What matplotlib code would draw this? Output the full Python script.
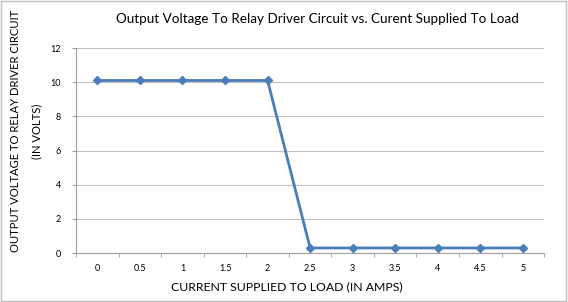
import matplotlib
matplotlib.use('Agg')
import matplotlib.pyplot as plt
from matplotlib.patches import Rectangle

current = ['0', '0.5', '1', '1.5', '2', '2.5', '3', '3.5', '4', '4.5', '5']
voltage = [10.1, 10.1, 10.1, 10.1, 10.1, 0.3, 0.3, 0.3, 0.3, 0.3, 0.3]

plt.rcParams['font.family'] = ['Lato', 'DejaVu Sans']

fig = plt.figure(figsize=(5.68, 3.02), dpi=100)
ax = fig.add_axes([0.134, 0.162, 0.824, 0.679])

xs = list(range(len(current)))
ax.plot(xs, voltage, color='#4A7EBB', lw=2, marker='D', ms=4, zorder=3)

ax.set_xlim(-0.5, len(current) - 0.5)
ax.set_ylim(0, 12)
ax.set_yticks(range(0, 13, 2))
ax.set_xticks(xs)
ax.set_xticklabels(current)
ax.set_xticks([x - 0.5 for x in range(len(current) + 1)], minor=True)
ax.yaxis.grid(True, color='#BFBFBF', lw=0.8)
ax.set_axisbelow(True)

for s in ['top', 'right']:
    ax.spines[s].set_visible(False)
for s in ['left', 'bottom']:
    ax.spines[s].set_color('#A0A0A0')
ax.tick_params(axis='x', which='major', length=0, labelsize=6.5, pad=8)
ax.tick_params(axis='x', which='minor', length=3, color='#A0A0A0')
ax.tick_params(axis='y', length=3, color='#A0A0A0', labelsize=6.5, pad=8)

ax.set_xlabel('CURRENT SUPPLIED TO LOAD (IN AMPS)', fontsize=8.8)
ax.xaxis.set_label_coords(0.451, -0.14)
ax.set_ylabel('OUTPUT VOLTAGE TO RELAY DRIVER CIRCUIT\n(IN VOLTS)', fontsize=8.1,
              linespacing=2.2)
ax.yaxis.set_label_coords(-0.072, 0.595)
ax.set_title('Output Voltage To Relay Driver Circuit vs. Curent Supplied To Load',
             fontsize=9.7, x=0.515, pad=18)

fig.patches.append(Rectangle((0.002, 0.003), 0.995, 0.993, transform=fig.transFigure,
                             fill=False, edgecolor='#BFBFBF', lw=1))

fig.savefig('out.png', dpi=100)
